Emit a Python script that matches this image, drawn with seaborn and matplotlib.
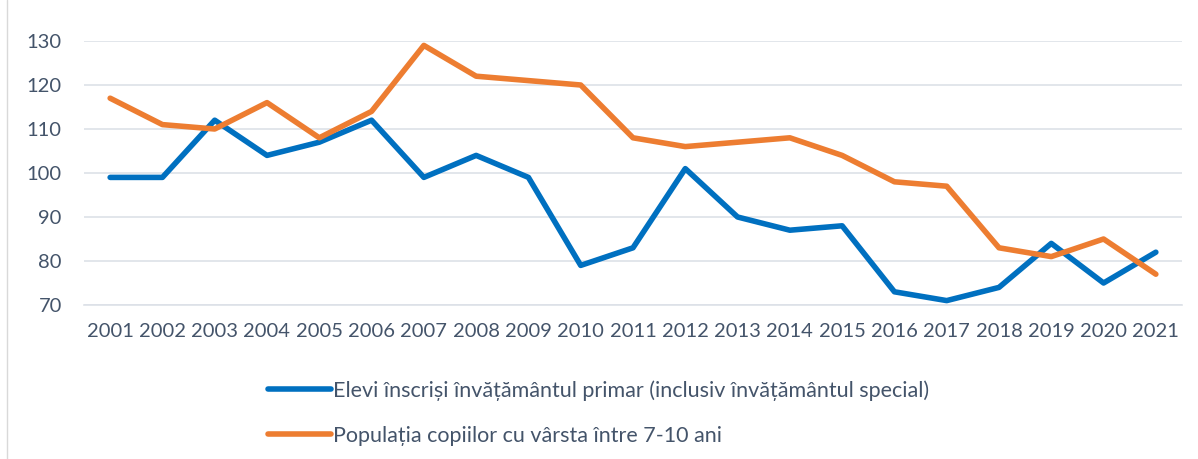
import matplotlib
matplotlib.use('agg')
import matplotlib.pyplot as plt
import matplotlib.lines as mlines
import pandas as pd
import seaborn as sns

years = [str(y) for y in range(2001, 2022)]
elevi = [99, 99, 112, 104, 107, 112, 99, 104, 99, 79, 83, 101, 90, 87, 88, 73, 71, 74, 84, 75, 82]
populatie = [117, 111, 110, 116, 108, 114, 129, 122, 121, 120, 108, 106, 107, 108, 104, 98, 97, 83, 81, 85, 77]
labels = ['Elevi înscriși învățământul primar (inclusiv învățământul special)',
          'Populația copiilor cu vârsta între 7-10 ani']
colors = ['#0070C0', '#ED7D31']

sns.set_style('white')
plt.rcParams['font.family'] = ['Lato', 'DejaVu Sans']
text_color = '#44546A'
grid_color = '#DDE1E8'

df = pd.DataFrame({'pos': list(range(len(years))) * 2,
                   'value': elevi + populatie,
                   'serie': [labels[0]] * len(years) + [labels[1]] * len(years)})

fig = plt.figure(figsize=(11.98, 4.59), dpi=100)
ax = fig.add_axes([84 / 1198, 1 - 305 / 459, (1182 - 84) / 1198, (305 - 41) / 459])
sns.lineplot(data=df, x='pos', y='value', hue='serie', palette=colors,
             linewidth=4, ax=ax, legend=False)
for ln in ax.lines:
    ln.set_solid_capstyle('round')
    ln.set_solid_joinstyle('round')
    ln.set_clip_on(False)

ax.set_xlim(-0.5, len(years) - 0.5)
ax.set_ylim(70, 130)
ax.set_yticks(range(70, 131, 10))
ax.set_xticks(range(len(years)))
ax.set_xticklabels(years)
ax.set_xticks([i - 0.5 for i in range(len(years) + 1)], minor=True)
ax.tick_params(axis='x', which='major', length=0, pad=13, labelsize=14.5, labelcolor=text_color)
ax.tick_params(axis='x', which='minor', length=7, width=1.2, color=grid_color, direction='out')
ax.tick_params(axis='y', length=0, pad=16, labelsize=14.5, labelcolor=text_color)
ax.grid(axis='y', color=grid_color, linewidth=1.2)
ax.set_axisbelow(True)
ax.set_xlabel('')
ax.set_ylabel('')
for s in ['top', 'right', 'left']:
    ax.spines[s].set_visible(False)
ax.spines['bottom'].set_color(grid_color)
ax.spines['bottom'].set_linewidth(1.2)

# left chart border
fig.add_artist(mlines.Line2D([7 / 1198, 7 / 1198], [0, 1], color='#D9D9D9', linewidth=1))

handles = [mlines.Line2D([], [], color=c, linewidth=4, solid_capstyle='round') for c in colors]
fig.legend(handles, labels, loc='upper left', bbox_to_anchor=(249 / 1198, 1 - 361 / 459),
           frameon=False, handlelength=2.9, handletextpad=0.1, labelspacing=1.15,
           fontsize=15.5, labelcolor=text_color)

fig.savefig('out.png', dpi=100)
